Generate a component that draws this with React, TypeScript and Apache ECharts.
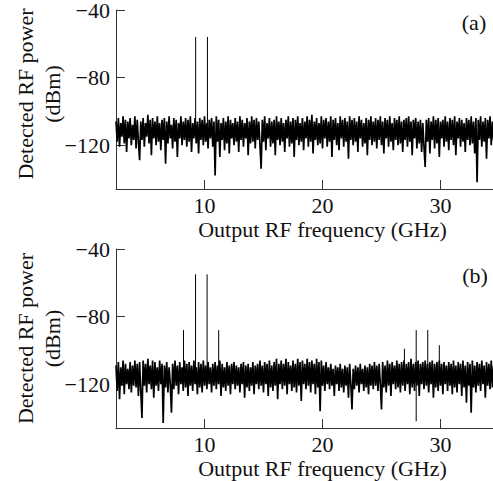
import React, { useEffect, useRef } from "react";
import * as echarts from "echarts";

// Frequency grid of the sampled spectra (GHz)
const FREQ_START = 2.5;
const FREQ_STEP = 0.1;

// Panel (a) noise floor, dBm, one value per frequency bin
const noiseA: number[] = [
  -106,-118,-104,-121,-107,-115,-103,-119,-105,-124,-106,-116,-104,-120,-108,-117,-103,-122,-105,-118,
  -129,-106,-117,-104,-121,-107,-115,-102,-119,-105,-126,-104,-116,-106,-120,-103,-118,-107,-123,-105,
  -117,-104,-131,-106,-119,-103,-116,-108,-122,-104,-118,-105,-127,-107,-116,-103,-120,-106,-117,-104,
  -121,-105,-118,-103,-124,-107,-116,-104,-119,-106,-125,-104,-117,-105,-120,-103,-118,-107,-122,-105,
  -116,-104,-121,-106,-138,-103,-118,-105,-127,-107,-117,-104,-123,-106,-119,-103,-125,-105,-116,-107,
  -120,-104,-118,-106,-124,-103,-117,-105,-121,-107,-116,-104,-126,-106,-119,-103,-118,-105,-122,-104,
  -117,-106,-120,-134,-105,-118,-103,-123,-107,-116,-104,-121,-106,-119,-105,-126,-103,-117,-106,-120,
  -104,-118,-107,-124,-105,-116,-103,-121,-106,-119,-104,-127,-105,-117,-103,-120,-107,-118,-104,-123,
  -106,-116,-103,-121,-105,-118,-102,-125,-106,-117,-104,-120,-107,-119,-103,-122,-105,-116,-104,-121,
  -106,-118,-103,-127,-105,-117,-104,-120,-107,-123,-103,-116,-105,-121,-104,-118,-106,-128,-103,-117,
  -105,-120,-104,-118,-106,-124,-103,-116,-105,-121,-107,-119,-104,-126,-105,-117,-103,-120,-106,-118,
  -104,-122,-105,-117,-103,-120,-106,-125,-104,-116,-105,-121,-103,-118,-107,-123,-104,-117,-105,-120,
  -103,-119,-106,-124,-105,-117,-104,-121,-103,-118,-106,-126,-105,-116,-104,-122,-106,-119,-105,-124,
  -107,-121,-133,-105,-118,-104,-125,-106,-117,-103,-122,-105,-119,-104,-127,-106,-116,-105,-121,-103,
  -118,-106,-123,-104,-117,-105,-120,-103,-126,-106,-116,-104,-121,-105,-118,-107,-124,-104,-117,-105,
  -120,-103,-119,-106,-125,-104,-142,-105,-117,-103,-121,-106,-118,-104,-128,-105,-116,-103,-120,-106,
  -117,-104,
];

// Panel (b) noise floor, dBm
const noiseB: number[] = [
  -109,-124,-107,-129,-110,-121,-106,-126,-108,-120,-111,-123,-107,-125,-109,-121,-106,-122,-108,-127,
  -107,-124,-140,-106,-121,-108,-125,-105,-120,-109,-123,-106,-128,-107,-121,-110,-124,-106,-120,-108,
  -143,-109,-122,-107,-125,-110,-120,-137,-108,-123,-106,-121,-109,-126,-107,-120,-110,-124,-106,-122,
  -108,-127,-107,-121,-109,-124,-106,-120,-110,-126,-107,-122,-108,-125,-106,-121,-109,-123,-107,-120,
  -110,-125,-108,-121,-107,-123,-109,-120,-106,-127,-108,-122,-110,-124,-107,-121,-109,-126,-108,-120,
  -107,-123,-109,-121,-110,-125,-108,-120,-107,-128,-109,-122,-108,-124,-110,-121,-107,-126,-109,-120,
  -108,-123,-106,-121,-109,-125,-107,-120,-108,-127,-106,-122,-109,-124,-107,-121,-105,-129,-108,-120,
  -106,-123,-108,-121,-105,-126,-107,-120,-109,-124,-106,-122,-108,-125,-105,-121,-107,-130,-106,-120,
  -108,-123,-105,-121,-107,-125,-106,-120,-108,-126,-105,-122,-107,-136,-106,-121,-109,-124,-107,-120,
  -110,-123,-108,-121,-111,-127,-109,-120,-110,-124,-108,-122,-111,-125,-109,-121,-110,-128,-108,-120,
  -135,-111,-123,-109,-121,-110,-125,-108,-120,-111,-124,-109,-122,-110,-126,-108,-121,-109,-123,-107,
  -121,-109,-124,-108,-120,-135,-107,-122,-109,-125,-106,-121,-108,-127,-107,-120,-109,-123,-106,-122,
  -108,-125,-107,-121,-106,-124,-108,-120,-107,-126,-105,-122,-108,-124,-107,-121,-106,-127,-108,-120,
  -107,-123,-106,-121,-108,-125,-107,-120,-106,-128,-108,-122,-107,-124,-106,-121,-108,-126,-107,-120,
  -109,-124,-107,-121,-108,-126,-106,-122,-109,-125,-107,-120,-108,-127,-106,-122,-109,-131,-107,-121,
  -108,-137,-106,-122,-109,-125,-107,-121,-108,-124,-106,-120,-109,-128,-107,-121,-108,-123,-106,-122,
  -109,-121,
];

// Discrete tones (spikes)
const spikeFreqA = [9.25, 10.25];
const spikeTopA = [-56, -56];
const spikeBaseA = [-112, -112];

const spikeFreqB = [8.22, 9.24, 10.22, 11.2, 26.94, 27.94, 28.92, 29.9];
const spikeTopB = [-88, -55, -55, -88, -99, -88, -88, -97];
const spikeBaseB = [-118, -118, -118, -118, -118, -142, -118, -118];

// Axis ticks / labels
const yTicks = [-40, -80, -120];
const xTicks = [10, 20, 30];
const panelLabels = ["(a)", "(b)"];
const xName = "Output RF frequency (GHz)";
const yName = "Detected RF power\n(dBm)";

const FONT = "'Liberation Serif', 'Times New Roman', serif";
const FS = 22;

export default function App() {
  const ref = useRef<HTMLDivElement>(null);
  useEffect(() => {
    if (!ref.current) return;
    const chart = echarts.init(ref.current, null, { renderer: "svg" });

    const toPairs = (vals: number[]) =>
      vals.map((v, i) => [+(FREQ_START + i * FREQ_STEP).toFixed(2), v]);

    const tops = [10, 249];
    const grids = tops.map((t) => ({
      left: 116,
      right: -36,
      top: t,
      height: 179,
      containLabel: false,
      outerBoundsMode: "none",
    }));

    const axisLineStyle = { color: "#333", width: 1 };
    const xAxes = [0, 1].map((i) => ({
      type: "value",
      gridIndex: i,
      min: 2.5,
      max: 37.5,
      axisLine: { show: true, lineStyle: axisLineStyle },
      axisTick: { show: true, inside: true, length: 9, customValues: xTicks, lineStyle: axisLineStyle },
      axisLabel: { customValues: xTicks, margin: 5, fontFamily: FONT, fontSize: FS, color: "#111" },
      splitLine: { show: false },
      name: xName,
      nameLocation: "middle",
      nameGap: 29,
      nameMoveOverlap: false,
      nameTextStyle: { fontFamily: FONT, fontSize: FS, color: "#111", verticalAlign: "top" },
    }));
    const yAxes = [0, 1].map((i) => ({
      type: "value",
      gridIndex: i,
      min: -146,
      max: -40,
      axisLine: { show: true, lineStyle: axisLineStyle },
      axisTick: { show: true, inside: true, length: 9, customValues: yTicks, lineStyle: axisLineStyle },
      axisLabel: {
        customValues: yTicks,
        margin: 6,
        fontFamily: FONT,
        fontSize: FS,
        lineHeight: 19,
        color: "#111",
        formatter: (v: number) => String(v).replace("-", "\u2212"),
      },
      splitLine: { show: false },
      name: yName,
      nameLocation: "middle",
      nameRotate: 90,
      nameGap: 50,
      nameMoveOverlap: false,
      nameTextStyle: {
        fontFamily: FONT,
        fontSize: FS,
        lineHeight: 27,
        color: "#111",
        padding: i === 0 ? [0, 0, 0, 11] : [0, 0, 0, 0],
      },
    }));

    const lineBase = {
      type: "line",
      showSymbol: false,
      symbol: "none",
      silent: true,
      lineStyle: { color: "#000", width: 1 },
    };

    const series: any[] = [
      { ...lineBase, lineStyle: { color: "#000", width: 1.7 }, xAxisIndex: 0, yAxisIndex: 0, data: toPairs(noiseA) },
      { ...lineBase, lineStyle: { color: "#000", width: 1.7 }, xAxisIndex: 1, yAxisIndex: 1, data: toPairs(noiseB) },
    ];
    spikeFreqA.forEach((f, k) =>
      series.push({ ...lineBase, xAxisIndex: 0, yAxisIndex: 0, data: [[f, spikeBaseA[k]], [f, spikeTopA[k]]] })
    );
    spikeFreqB.forEach((f, k) =>
      series.push({ ...lineBase, xAxisIndex: 1, yAxisIndex: 1, data: [[f, spikeBaseB[k]], [f, spikeTopB[k]]] })
    );

    chart.setOption({
      animation: false,
      backgroundColor: "#fff",
      grid: grids,
      xAxis: xAxes,
      yAxis: yAxes,
      series,
      graphic: [
        { type: "text", x: 474, y: 22, style: { text: panelLabels[0], font: `${FS}px ${FONT}`, fill: "#111", align: "center", verticalAlign: "middle" } },
        { type: "text", x: 475, y: 275, style: { text: panelLabels[1], font: `${FS}px ${FONT}`, fill: "#111", align: "center", verticalAlign: "middle" } },
      ],
    });
    return () => chart.dispose();
  }, []);
  return (
    <div
      ref={ref}
      style={{ position: "absolute", left: 0, top: 0, width: 493, height: 481 }}
    />
  );
}
